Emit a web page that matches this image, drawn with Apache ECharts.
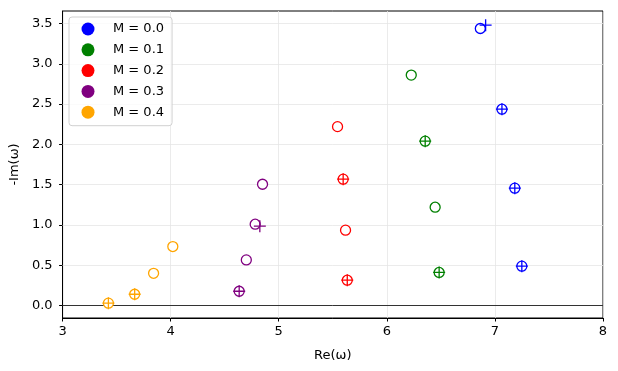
<!DOCTYPE html>
<html>
<head>
<meta charset="utf-8">
<script src="https://cdn.jsdelivr.net/npm/echarts@6/dist/echarts.min.js"></script>
<style>
  html, body { margin: 0; padding: 0; background: #fff; }
  #chart { width: 618px; height: 371px; }
</style>
</head>
<body>
<div id="chart"></div>
<script>
// data
const mLabels = ['M = 0.0', 'M = 0.1', 'M = 0.2', 'M = 0.3', 'M = 0.4']
const colors = ['#0000ff', '#008000', '#ff0000', '#800080', '#ffa500']

// open circles: [Re, -Im]
const circlesM0 = [[6.865, 3.438], [7.065, 2.436], [7.184, 1.456], [7.249, 0.488]]
const circlesM1 = [[6.226, 2.86], [6.355, 2.04], [6.447, 1.22], [6.484, 0.41]]
const circlesM2 = [[5.544, 2.22], [5.596, 1.568], [5.618, 0.935], [5.634, 0.314]]
const circlesM3 = [[4.85, 1.505], [4.782, 1.009], [4.70, 0.566], [4.634, 0.177]]
const circlesM4 = [[4.02, 0.732], [3.842, 0.40], [3.667, 0.14], [3.424, 0.029]]

// plus markers: [Re, -Im]
const plusM0 = [[6.914, 3.479], [7.065, 2.436], [7.184, 1.456], [7.249, 0.488]]
const plusM1 = [[6.355, 2.04], [6.484, 0.41]]
const plusM2 = [[5.596, 1.568], [5.634, 0.314]]
const plusM3 = [[4.825, 0.984], [4.634, 0.177]]
const plusM4 = [[3.667, 0.14], [3.424, 0.029]]

const xTicks = [3, 4, 5, 6, 7, 8]
const yTicks = [0, 0.5, 1, 1.5, 2, 2.5, 3, 3.5]

const circleSets = [circlesM0, circlesM1, circlesM2, circlesM3, circlesM4]
const plusSets = [plusM0, plusM1, plusM2, plusM3, plusM4]

const font = 'DejaVu Sans'
const plusPath = 'path://M6,0L6,12M0,6L12,6'

const series = [
  {
    // y grid lines + zero line
    name: 'grid',
    type: 'scatter',
    data: [],
    z: 1,
    silent: true,
    markLine: {
      z: 1,
      silent: true,
      symbol: 'none',
      animation: false,
      label: { show: false },
      data: yTicks.filter(v => v !== 0).map(v => ({
        yAxis: v,
        lineStyle: { color: '#e6e6e6', width: 0.8, type: 'solid' }
      })).concat([{
        yAxis: 0,
        lineStyle: { color: '#333', width: 1, type: 'solid' }
      }])
    }
  }
]

mLabels.forEach((name, i) => {
  series.push({
    name: name,
    type: 'scatter',
    z: 3,
    symbol: 'circle',
    symbolSize: 10,
    itemStyle: { color: '#fff', borderColor: colors[i], borderWidth: 1.3, opacity: 1 },
    data: circleSets[i]
  })
  series.push({
    name: name + ' +',
    type: 'scatter',
    z: 4,
    symbol: plusPath,
    symbolSize: 12,
    itemStyle: { color: 'transparent', borderColor: colors[i], borderWidth: 1.3, opacity: 1 },
    data: plusSets[i]
  })
})

const chart = echarts.init(document.getElementById('chart'))
chart.setOption({
  animation: false,
  grid: {
    left: 61, right: 15, top: 11, bottom: 53,
    show: true, borderColor: '#000', borderWidth: 1
  },
  legend: {
    left: 69,
    top: 17,
    z: 10,
    orient: 'vertical',
    itemWidth: 13,
    itemHeight: 13,
    itemGap: 7.8,
    padding: [5.5, 8, 7, 12.5],
    backgroundColor: 'rgba(255,255,255,0.8)',
    borderColor: '#d0d0d0',
    borderWidth: 1,
    borderRadius: 3,
    textStyle: { fontFamily: font, fontSize: 13, color: '#000', padding: [0, 0, 0, 13.5] },
    data: mLabels.map((n, i) => ({
      name: n,
      icon: 'circle',
      itemStyle: { color: colors[i], borderColor: colors[i], borderWidth: 0 }
    }))
  },
  xAxis: {
    type: 'value',
    min: 3,
    max: 8,
    interval: 1,
    name: 'Re(ω)',
    nameLocation: 'middle',
    nameGap: 31,
    nameTextStyle: { fontFamily: font, fontSize: 13, color: '#000' },
    axisLine: { show: true, onZero: false, lineStyle: { color: '#000', width: 1 } },
    axisTick: { show: true, length: 3.5, lineStyle: { color: '#000' } },
    axisLabel: { fontFamily: font, fontSize: 13, color: '#000', margin: 7, formatter: v => String(v) },
    splitLine: { show: true, lineStyle: { color: '#e6e6e6', width: 0.8 } }
  },
  yAxis: {
    type: 'value',
    min: -0.155,
    max: 3.655,
    name: '-Im(ω)',
    nameLocation: 'middle',
    nameGap: 39,
    nameTextStyle: { fontFamily: font, fontSize: 13, color: '#000' },
    axisLine: { show: true, onZero: false, lineStyle: { color: '#000', width: 1 } },
    axisTick: { show: true, length: 3.5, lineStyle: { color: '#000' }, customValues: yTicks },
    axisLabel: {
      fontFamily: font, fontSize: 13, color: '#000', margin: 10,
      customValues: yTicks,
      formatter: v => v.toFixed(1)
    },
    splitLine: { show: false }
  },
  series: series
})
</script>
</body>
</html>
